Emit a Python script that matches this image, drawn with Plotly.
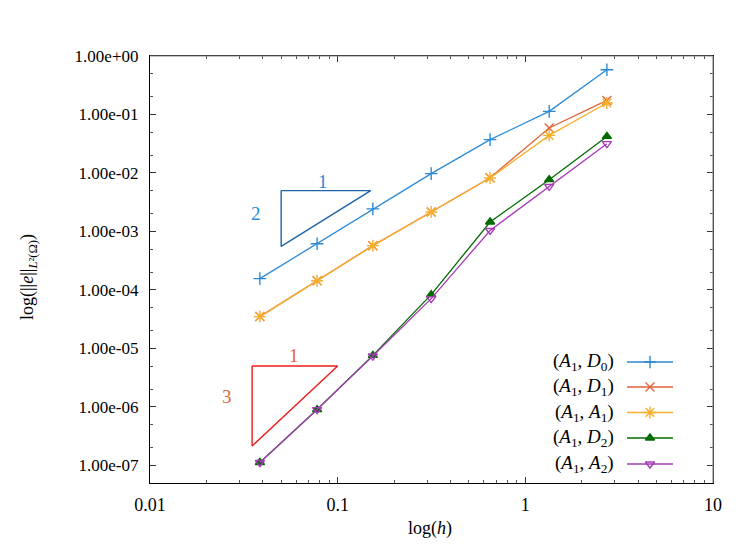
import plotly.graph_objects as go

# ---- data ----
h = [0.0385, 0.0777, 0.154, 0.315, 0.649, 1.34, 2.72]
err_A1_D0 = [1.56e-4, 6.18e-4, 2.43e-3, 9.73e-3, 3.71e-2, 0.113, 0.583]
err_A1_D1 = [3.5e-5, 1.44e-4, 5.72e-4, 2.15e-3, 8.3e-3, 0.0588, 0.174]
err_A1_A1 = [3.5e-5, 1.44e-4, 5.72e-4, 2.15e-3, 8.22e-3, 0.0439, 0.157]
err_A1_D2 = [1.12e-7, 9.0e-7, 7.6e-6, 8.3e-5, 1.45e-3, 7.68e-3, 0.0422]
err_A1_A2 = [1.12e-7, 9.0e-7, 7.4e-6, 7.1e-5, 1.04e-3, 5.9e-3, 0.0317]

series_names = ["(<i>A</i><sub>1</sub>, <i>D</i><sub>0</sub>)",
                "(<i>A</i><sub>1</sub>, <i>D</i><sub>1</sub>)",
                "(<i>A</i><sub>1</sub>, <i>A</i><sub>1</sub>)",
                "(<i>A</i><sub>1</sub>, <i>D</i><sub>2</sub>)",
                "(<i>A</i><sub>1</sub>, <i>A</i><sub>2</sub>)"]
series_vals = [err_A1_D0, err_A1_D1, err_A1_A1, err_A1_D2, err_A1_A2]

x_tickvals = [0.01, 0.1, 1, 10]
x_ticktext = ["0.01", "0.1", "1", "10"]
y_tickvals = [1, 1e-1, 1e-2, 1e-3, 1e-4, 1e-5, 1e-6, 1e-7]
y_ticktext = ["1.00e+00", "1.00e-01", "1.00e-02", "1.00e-03",
              "1.00e-04", "1.00e-05", "1.00e-06", "1.00e-07"]

# slope triangles: (x_left, x_right, y_top, order)
tri_slope2 = (0.05, 0.15, 0.005, 2)
tri_slope3 = (0.035, 0.1, 5e-6, 3)

# ---- styles ----
colors = ["#2b8ad6", "#e2643a", "#f6ae2d", "#006b00", "#a63bb5"]
symbols = ["cross-thin-open", "x-thin-open", "asterisk-open", "triangle-up", "triangle-down-open"]
msizes = [9, 9, 10, 8, 8]
FONT = "Liberation Serif"

fig = go.Figure()

for name, vals, c, s, ms in zip(series_names, series_vals, colors, symbols, msizes):
    fig.add_trace(go.Scatter(
        x=h, y=vals, mode="lines+markers", name=name, showlegend=False,
        line=dict(color=c, width=1.3),
        marker=dict(symbol=s, size=ms, color=c, line=dict(color=c, width=1.4)),
    ))

def triangle(t, color):
    x0, x1, ytop, p = t
    ybot = ytop * (x0 / x1) ** p
    fig.add_trace(go.Scatter(x=[x0, x1, x0, x0], y=[ytop, ytop, ybot, ytop],
                             mode="lines", line=dict(color=color, width=1.4),
                             showlegend=False, hoverinfo="skip"))

triangle(tri_slope2, "#1f64a8")
triangle(tri_slope3, "#ee1c1c")

# ---- page geometry (page body has an 8px offset) ----
OFF = 8
W, H = 747 - OFF, 544 - OFF
L, R, T, B = 150, 713, 56, 483   # plot frame in screen pixels

leg_rows = [362, 387, 412.5, 438, 464]
for name, c, s, ms, py in zip(series_names, colors, symbols, msizes, leg_rows):
    fig.add_trace(go.Scatter(x=[627, 673], y=[py, py], xaxis="x2", yaxis="y2",
                             mode="lines", line=dict(color=c, width=1.3),
                             showlegend=False, hoverinfo="skip"))
    fig.add_trace(go.Scatter(x=[650], y=[py], xaxis="x2", yaxis="y2", mode="markers",
                             marker=dict(symbol=s, size=ms, color=c, line=dict(color=c, width=1.4)),
                             showlegend=False, hoverinfo="skip"))
    fig.add_annotation(x=616, y=py, xref="x2", yref="y2", text=name, showarrow=False,
                       xanchor="right", yanchor="middle",
                       font=dict(family=FONT, size=19, color="black"))

for txt, px, py, col in [("1", 323, 181, "#2b8ad6"), ("2", 256, 213, "#2b8ad6"),
                         ("1", 294, 355, "#e2643a"), ("3", 227, 396, "#e2643a")]:
    fig.add_annotation(x=px, y=py, xref="x2", yref="y2", text=txt, showarrow=False,
                       xanchor="center", yanchor="middle",
                       font=dict(family=FONT, size=19, color=col))

# axis titles
fig.add_annotation(x=(28 - L) / (R - L), y=(B - 277) / (B - T), xref="paper", yref="paper",
                   text="log(||<i>e</i>||<sub><i>L</i>²(Ω)</sub>)", textangle=-90,
                   xanchor="center", yanchor="middle",
                   showarrow=False, font=dict(family=FONT, size=18, color="black"))
fig.add_annotation(x=(430 - L) / (R - L), y=(B - 528) / (B - T), xref="paper", yref="paper",
                   text="log(<i>h</i>)", showarrow=False, xanchor="center", yanchor="middle",
                   font=dict(family=FONT, size=18, color="black"))

# top/right frame in gray
fig.add_shape(type="line", xref="paper", yref="paper", x0=0, x1=1, y0=1, y1=1,
              line=dict(color="#8a8a8a", width=1.2))
fig.add_shape(type="line", xref="paper", yref="paper", x0=1, x1=1, y0=0, y1=1,
              line=dict(color="#8a8a8a", width=1.2))

fig.update_layout(
    width=W, height=H,
    margin=dict(l=L - OFF, r=W - (R - OFF), t=T - OFF, b=H - (B - OFF)),
    plot_bgcolor="white", paper_bgcolor="white",
    showlegend=False,
    xaxis=dict(type="log", range=[-2, 1], tickvals=x_tickvals, ticktext=x_ticktext,
               ticks="inside", ticklen=6, tickcolor="#333", tickwidth=1,
               showline=True, linecolor="black", linewidth=1.2, mirror="ticks",
               showgrid=False, zeroline=False,
               tickfont=dict(family=FONT, size=18, color="black"), ticklabelstandoff=5,
               minor=dict(ticks="inside", ticklen=3, tickcolor="#555", dtick="D1", showgrid=False)),
    yaxis=dict(type="log", range=[-7.301, 0], tickvals=y_tickvals, ticktext=y_ticktext,
               ticks="inside", ticklen=6, tickcolor="#333", tickwidth=1,
               showline=True, linecolor="black", linewidth=1.2, mirror="ticks",
               showgrid=False, zeroline=False,
               tickfont=dict(family=FONT, size=17, color="black"), ticklabelstandoff=7,
               minor=dict(ticks="inside", ticklen=3, tickcolor="#555", dtick="D2", showgrid=False)),
    xaxis2=dict(range=[L, R], overlaying="x", visible=False, domain=[0, 1]),
    yaxis2=dict(range=[B, T], overlaying="y", visible=False),
)

fig.write_html("out.html")
